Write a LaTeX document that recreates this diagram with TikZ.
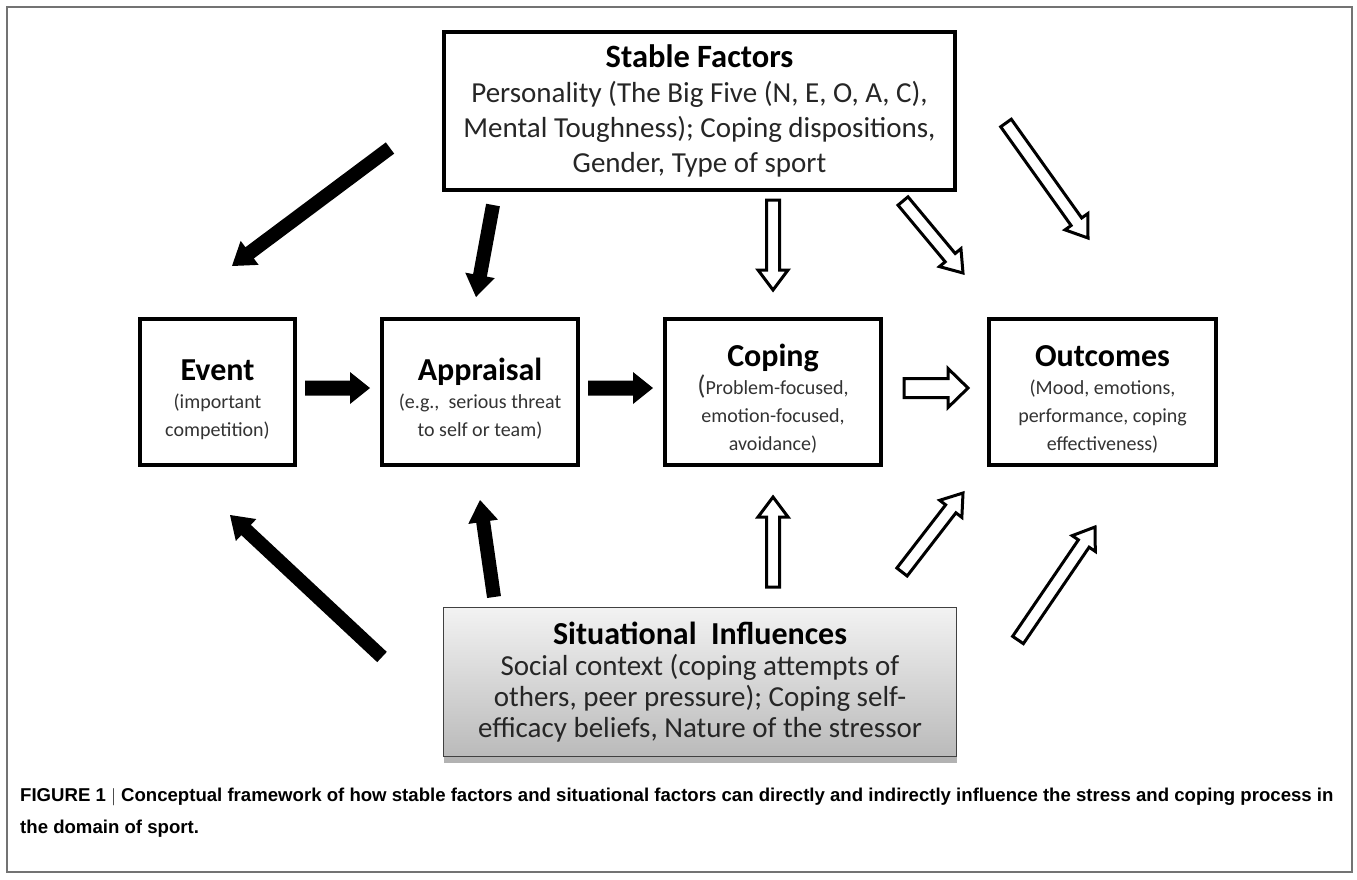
\documentclass[tikz,border=0pt]{standalone}
\usepackage{fontspec}
\setmainfont{Carlito}
\newfontfamily\capfont{Liberation Sans}
\usetikzlibrary{calc,shadows}

% block arrow: #1 tail, #2 tip, #3 half shaft, #4 half head, #5 head length, #6 style
\newcommand{\blockarrow}[6]{%
  \coordinate (#1-#2-h) at ($(#2)!#5!(#1)$);
  \path[#6] ($(#1)!#3!90:(#2)$)
    -- ($(#1-#2-h)!#3!-90:(#1)$)
    -- ($(#1-#2-h)!#4!-90:(#1)$)
    -- (#2)
    -- ($(#1-#2-h)!#4!90:(#1)$)
    -- ($(#1-#2-h)!#3!90:(#1)$)
    -- ($(#1)!#3!-90:(#2)$) -- cycle;
}
\newcommand{\boxtitle}[1]{{\rule{0pt}{36pt}\fontsize{32}{34}\selectfont\bfseries\color{black}#1}}

\tikzset{
  bigbox/.style={draw=black, line width=4pt, fill=white, align=center, inner sep=0pt,
    minimum width=511pt, minimum height=158pt},
  midbox/.style={draw=black, line width=4pt, fill=white, align=center, inner sep=0pt,
    minimum height=146pt, font=\fontsize{20}{28}\selectfont\color{black!80}},
  solidarrow/.style={fill=black},
  hollowarrow/.style={draw=black, line width=3pt, fill=white, line join=miter},
  situbox/.style={draw=black!75, line width=1.5pt, top color=black!5, bottom color=black!27,
    align=center, inner sep=0pt, minimum width=513pt, minimum height=149pt,
    drop shadow={shadow xshift=0pt, shadow yshift=-6pt, opacity=0.3, fill=black}},
}

\begin{document}
\begin{tikzpicture}[x=1pt, y=-1pt]
\useasboundingbox (0,0) rectangle (1357,879);
\fill[white] (0,0) rectangle (1357,879);
\draw[black!55, line width=1.2pt] (7,7) rectangle (1352,872);

% boxes
\node[bigbox, font=\fontsize{29}{35}\selectfont\color{black!85}] (stable) at (699.5,111)
  {{\fontsize{32.5}{35}\selectfont\bfseries\color{black} Stable Factors}\\
   Personality (The Big Five (N, E, O, A, C),\\
   Mental Toughness); Coping dispositions,\\
   Gender, Type of sport};

\node[midbox, minimum width=155pt] (event) at (217.5,392)
  {\boxtitle{Event}\\ (important\\ competition)};
\node[midbox, minimum width=196pt] (appraisal) at (480,392)
  {\boxtitle{Appraisal}\\ (e.g.,\ \ serious threat\\ to self or team)};
\node[midbox, minimum width=216pt] (coping) at (773,392)
  {\boxtitle{Coping}\\ {\fontsize{27}{28}\selectfont(}Problem-focused,\\ emotion-focused,\\ avoidance)};
\node[midbox, minimum width=227pt] (outcomes) at (1102.5,392)
  {\boxtitle{Outcomes}\\ (Mood, emotions,\\ performance, coping\\ effectiveness)};

\node[situbox, font=\fontsize{29}{31}\selectfont\color{black!85}] (situ) at (700,682)
  {{\fontsize{32}{33}\selectfont\bfseries\color{black} Situational\ \ Influences}\\
   Social context (coping attempts of\\
   others, peer pressure); Coping self-\\
   efficacy beliefs, Nature of the stressor};

% arrow end points
\coordinate (ea-t) at (305,388);  \coordinate (ea-h) at (370,388);
\coordinate (ac-t) at (588,388);  \coordinate (ac-h) at (653,388);
\coordinate (co-t) at (904,388);  \coordinate (co-h) at (968,388);
\coordinate (se-t) at (390,148);  \coordinate (se-h) at (232,266);
\coordinate (sa-t) at (493,205);  \coordinate (sa-h) at (476,297);
\coordinate (sc-t) at (773,200);  \coordinate (sc-h) at (773,290);
\coordinate (so-t) at (903,201);  \coordinate (so-h) at (963,273);
\coordinate (xo-t) at (1006,123); \coordinate (xo-h) at (1088,238);
\coordinate (ie-t) at (382,657);  \coordinate (ie-h) at (230,515);
\coordinate (ia-t) at (494,597);  \coordinate (ia-h) at (480,500);
\coordinate (ic-t) at (773,587);  \coordinate (ic-h) at (773,497);
\coordinate (io-t) at (902,572);  \coordinate (io-h) at (963,493);
\coordinate (yo-t) at (1018,640); \coordinate (yo-h) at (1095,527);

% solid arrows
\blockarrow{ea-t}{ea-h}{7.5pt}{16pt}{20pt}{solidarrow}
\blockarrow{ac-t}{ac-h}{7.5pt}{16pt}{20pt}{solidarrow}
\blockarrow{se-t}{se-h}{7pt}{15pt}{22pt}{solidarrow}
\blockarrow{sa-t}{sa-h}{7pt}{15pt}{22pt}{solidarrow}
\blockarrow{ie-t}{ie-h}{7pt}{15pt}{22pt}{solidarrow}
\blockarrow{ia-t}{ia-h}{7pt}{15pt}{22pt}{solidarrow}

% hollow arrows
\blockarrow{co-t}{co-h}{9.5pt}{19.5pt}{20pt}{hollowarrow}
\blockarrow{sc-t}{sc-h}{6.5pt}{15pt}{20pt}{hollowarrow}
\blockarrow{so-t}{so-h}{6.5pt}{14pt}{20pt}{hollowarrow}
\blockarrow{xo-t}{xo-h}{6.5pt}{14pt}{20pt}{hollowarrow}
\blockarrow{ic-t}{ic-h}{6.5pt}{15pt}{20pt}{hollowarrow}
\blockarrow{io-t}{io-h}{6.5pt}{14pt}{20pt}{hollowarrow}
\blockarrow{yo-t}{yo-h}{6.5pt}{14pt}{20pt}{hollowarrow}

% caption
\node[anchor=north west, align=left, inner sep=0pt,
  font=\capfont\bfseries\fontsize{18.6}{32}\selectfont] (caption) at (20,788)
  {FIGURE 1 $|$ Conceptual framework of how stable factors and situational factors can directly and indirectly influence the stress and coping process in\\
   the domain of sport.};
\end{tikzpicture}
\end{document}
